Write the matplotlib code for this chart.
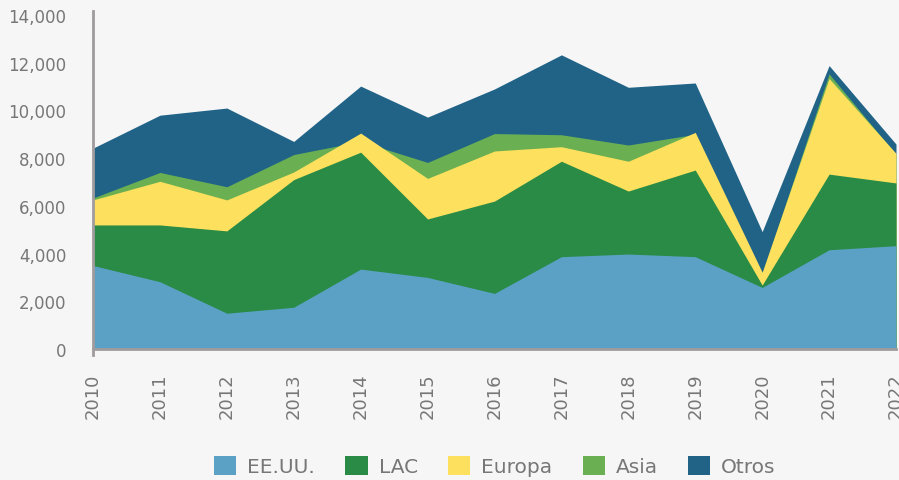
import numpy as np
import matplotlib
matplotlib.use("Agg")
import matplotlib.pyplot as plt
from matplotlib.patches import Patch
from matplotlib.ticker import FuncFormatter

years = [2010, 2011, 2012, 2013, 2014, 2015, 2016, 2017, 2018, 2019, 2020, 2021, 2022]
series_names = ["EE.UU.", "LAC", "Europa", "Asia", "Otros"]
ee_uu = [3500, 2820, 1500, 1750, 3350, 3000, 2330, 3870, 3980, 3870, 2580, 4160, 4330]
lac = [1700, 2380, 3450, 5350, 4900, 2450, 3870, 4000, 2640, 3630, 100, 3170, 2630]
europa = [1050, 1830, 1300, 320, 800, 1700, 2100, 610, 1250, 1580, 540, 4010, 1240]
asia = [80, 370, 550, 730, -350, 670, 730, 500, 680, -80, -70, 190, -50]
otros = [2090, 2400, 3300, 550, 2320, 1900, 1870, 3350, 2420, 2150, 1770, 350, 440]
y_ticks = [0, 2000, 4000, 6000, 8000, 10000, 12000, 14000]

colors = ["#5BA1C6", "#298B45", "#FCE05E", "#6AB052", "#216387"]
bg = "#F6F6F6"
txt = "#777777"

W, H = 899, 481
fig = plt.figure(figsize=(W / 100, H / 100), dpi=100, facecolor=bg)
ax = fig.add_axes([93 / W, (H - 350) / H, (896 - 93) / W, (350 - 16) / H])
ax.set_facecolor(bg)

data = np.array([ee_uu, lac, europa, asia, otros], dtype=float)
tops = np.cumsum(data, axis=0)
x = np.array(years)
# draw from back (Otros) to front (EE.UU.)
for i in range(len(series_names) - 1, -1, -1):
    ax.fill_between(x, 0, tops[i], color=colors[i], linewidth=0, zorder=2 + (4 - i))

ax.set_xlim(years[0], years[-1])
ax.set_ylim(0, 14000)
ax.set_yticks(y_ticks)
ax.yaxis.set_major_formatter(FuncFormatter(lambda v, p: f"{int(v):,}"))
ax.set_xticks(years)
ax.set_xticklabels([str(y) for y in years], rotation=90)

ax.tick_params(axis="y", length=0, pad=19, labelsize=12, labelcolor=txt)
ax.tick_params(axis="x", length=0, pad=17, labelsize=13, labelcolor=txt)

for s in ["top", "right"]:
    ax.spines[s].set_visible(False)
for s in ["left", "bottom"]:
    ax.spines[s].set_color("#A09C9D")
    ax.spines[s].set_linewidth(2)
    ax.spines[s].set_zorder(10)
ax.spines["left"].set_bounds(-250, 14170)

handles = [Patch(facecolor=c, edgecolor="none") for c in colors]
leg = fig.legend(handles, series_names, loc="center", bbox_to_anchor=(495 / W, (H - 467) / H),
                 ncol=5, frameon=False, fontsize=14.5, handlelength=1.1, handleheight=1.05,
                 handletextpad=0.55, columnspacing=1.5, labelcolor=txt)

fig.savefig("out.png", dpi=100, facecolor=bg)
